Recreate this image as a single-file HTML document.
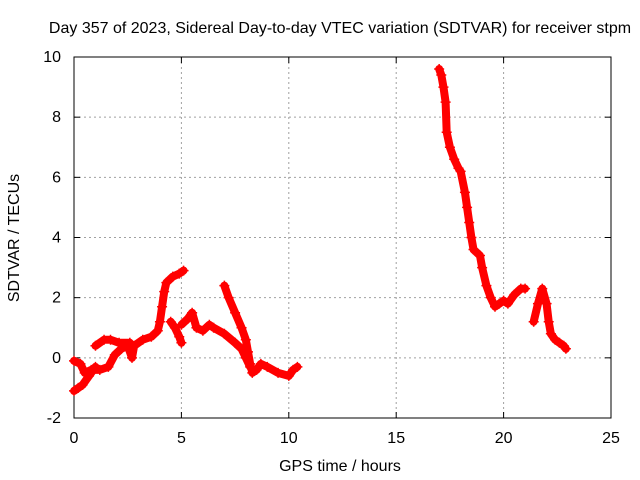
<!DOCTYPE html>
<html><head><meta charset="utf-8"><style>
body{margin:0;background:#fff}
svg{display:block;font-family:"Liberation Sans",sans-serif;font-size:16px}
</style></head><body>
<svg id="chart" width="640" height="480" viewBox="0 0 640 480">
<rect width="640" height="480" fill="#fff"/>
<g id="grid"></g><g id="axes"></g><g id="series"></g>
<text x="340" y="33" text-anchor="middle">Day 357 of 2023, Sidereal Day-to-day VTEC variation (SDTVAR) for receiver stpm</text>
<text x="340" y="471" text-anchor="middle">GPS time / hours</text>
<text transform="translate(19,238) rotate(-90)" text-anchor="middle">SDTVAR / TECUs</text>
</svg>
<script>
const xTicks=[0,5,10,15,20,25];
const yTicks=[-2,0,2,4,6,8,10];
const seg1=[[0,-0.1],[0.3,-0.2],[0.5,-0.5],[0.8,-0.4],[1.2,-0.4],[1.6,-0.3],[1.9,0.1],[2.2,0.3],[2.5,0.4],[2.7,0.0],[2.8,0.4],[3.2,0.6],[3.6,0.7],[3.9,0.9],[4.0,1.2],[4.1,1.7],[4.2,2.2],[4.3,2.5],[4.6,2.7],[4.9,2.8],[5.1,2.9]];
const seg2=[[0,-1.1],[0.2,-1.0],[0.4,-0.9],[0.7,-0.6],[1.0,-0.3]];
const seg3=[[1.0,0.4],[1.4,0.6],[1.7,0.6],[2.1,0.5],[2.6,0.5]];
const seg4=[[4.5,1.2],[4.7,1.0],[4.9,0.7],[5.0,0.5]];
const seg5=[[5.0,1.1],[5.3,1.3],[5.5,1.5],[5.7,1.0],[6.0,0.9],[6.3,1.1],[6.5,1.0],[7.0,0.8],[7.5,0.5],[7.8,0.3],[8.0,0.0],[8.2,-0.3]];
const seg6=[[7.0,2.4],[7.2,2.0],[7.5,1.5],[7.8,1.0],[8.0,0.6],[8.1,0.2],[8.2,-0.2],[8.3,-0.5],[8.5,-0.4],[8.7,-0.2],[9.0,-0.3],[9.5,-0.5],[10,-0.6],[10.2,-0.4],[10.4,-0.3]];
const seg7=[[17.0,9.6],[17.1,9.4],[17.2,9.0],[17.3,8.5],[17.35,7.5],[17.5,7.0],[17.7,6.6],[17.9,6.3],[18.0,6.2],[18.2,5.5],[18.3,5.0],[18.4,4.5],[18.5,4.0],[18.6,3.6],[18.9,3.4],[19.0,3.0],[19.2,2.4],[19.4,2.0],[19.6,1.7],[19.8,1.8],[20.0,1.9],[20.2,1.8],[20.5,2.1],[20.8,2.3],[21.0,2.3]];
const seg8=[[21.4,1.2],[21.6,1.8],[21.8,2.3],[22.0,1.8],[22.1,1.2],[22.2,0.8],[22.4,0.6],[22.6,0.5],[22.8,0.4],[22.9,0.3]];
const segments=[seg1,seg2,seg3,seg4,seg5,seg6,seg7,seg8];
const X0=74,X1=611,Y0=418,Y1=57;
const sx=v=>X0+(v-0)/(25-0)*(X1-X0);
const sy=v=>Y0-(v+2)/(12)*(Y0-Y1);
const NS="http://www.w3.org/2000/svg";
function mk(t,a,p){const e=document.createElementNS(NS,t);for(const k in a)e.setAttribute(k,a[k]);p.appendChild(e);return e;}
const grid=document.getElementById('grid'),axes=document.getElementById('axes'),ser=document.getElementById('series');
xTicks.forEach(t=>{const x=sx(t);
 if(t>0&&t<25){const g=mk('line',{x1:x,x2:x,y1:Y1,y2:Y0,stroke:'#a0a0a0','stroke-dasharray':'2,3'},grid);
 
 }
 mk('line',{x1:x,x2:x,y1:Y0,y2:Y0-6,stroke:'#000'},axes);mk('line',{x1:x,x2:x,y1:Y1,y2:Y1+6,stroke:'#000'},axes);
 const l=mk('text',{x:x,y:Y0+25,'text-anchor':'middle'},axes);l.textContent=t;
 
 });
yTicks.forEach(t=>{const y=sy(t);
 if(t>-2&&t<10){const g=mk('line',{x1:X0,x2:X1,y1:y,y2:y,stroke:'#a0a0a0','stroke-dasharray':'2,3'},grid);
 
 }
 mk('line',{x1:X0,x2:X0+6,y1:y,y2:y,stroke:'#000'},axes);mk('line',{x1:X1,x2:X1-6,y1:y,y2:y,stroke:'#000'},axes);
 const l=mk('text',{x:X0-13,y:y+5,'text-anchor':'end'},axes);l.textContent=t;
 
 });
const frame=mk('rect',{x:X0,y:Y1,width:X1-X0,height:Y0-Y1,fill:'none',stroke:'#000'},axes);


segments.forEach(s=>{
 const pl=mk('polyline',{points:s.map(p=>sx(p[0])+','+sy(p[1])).join(' '),fill:'none',stroke:'#f00','stroke-width':8,'stroke-linejoin':'round','stroke-linecap':'round'},ser);
 
 
 s.forEach(p=>{const x=sx(p[0]),y=sy(p[1]);
  const m=mk('path',{d:`M${x-5},${y}h10M${x},${y-5}v10`,stroke:'#f00','stroke-width':1.5},ser);
  
  });
});
</script>
</body></html>
